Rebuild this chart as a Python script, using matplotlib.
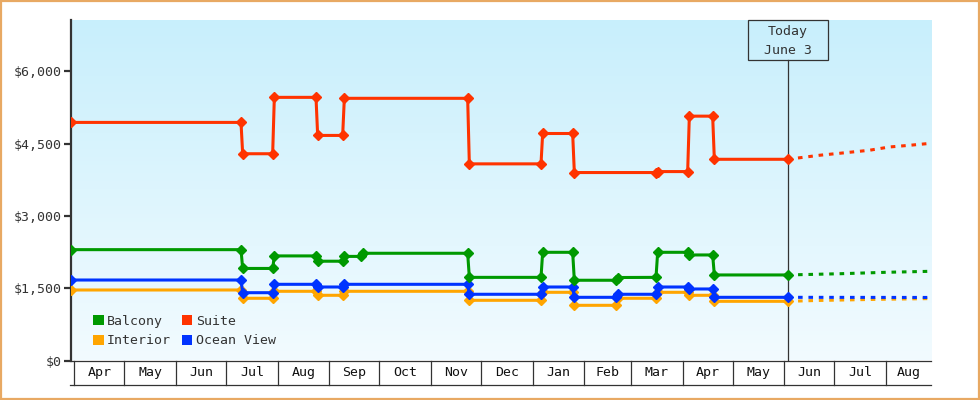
import matplotlib
matplotlib.use("Agg")
import matplotlib.pyplot as plt
import matplotlib.dates as mdates
import numpy as np
import pandas as pd
from matplotlib.patches import Rectangle, Patch
from matplotlib.ticker import FuncFormatter


# price history, one list of change points per cabin type
suite_dates = ["2024-03-30", "2024-07-10", "2024-07-11", "2024-07-29", "2024-07-30",
               "2024-08-24", "2024-08-25", "2024-09-09", "2024-09-10", "2024-11-23",
               "2024-11-24", "2025-01-06", "2025-01-07", "2025-01-25", "2025-01-26",
               "2025-03-16", "2025-03-17", "2025-04-04", "2025-04-05", "2025-04-19",
               "2025-04-20", "2025-06-03"]
suite_prices = [4940, 4940, 4290, 4290, 5460, 5460, 4670, 4670, 5440, 5440,
                4080, 4080, 4710, 4710, 3900, 3900, 3920, 3920, 5070, 5070,
                4175, 4175]

balcony_dates = ["2024-03-30", "2024-07-10", "2024-07-11", "2024-07-29", "2024-07-30",
                 "2024-08-24", "2024-08-25", "2024-09-09", "2024-09-10", "2024-09-20",
                 "2024-09-21", "2024-11-23", "2024-11-24", "2025-01-06", "2025-01-07",
                 "2025-01-25", "2025-01-26", "2025-02-20", "2025-02-21", "2025-03-16",
                 "2025-03-17", "2025-04-04", "2025-04-05", "2025-04-19", "2025-04-20",
                 "2025-06-03"]
balcony_prices = [2300, 2300, 1910, 1910, 2170, 2170, 2060, 2060, 2160, 2160,
                  2225, 2225, 1725, 1725, 2245, 2245, 1665, 1665, 1722, 1725,
                  2245, 2245, 2190, 2190, 1775, 1775]

common_dates = ["2024-03-30", "2024-07-10", "2024-07-11", "2024-07-29", "2024-07-30",
                "2024-08-24", "2024-08-25", "2024-09-09", "2024-09-10", "2024-11-23",
                "2024-11-24", "2025-01-06", "2025-01-07", "2025-01-25", "2025-01-26",
                "2025-02-20", "2025-02-21", "2025-03-16", "2025-03-17", "2025-04-04",
                "2025-04-05", "2025-04-19", "2025-04-20", "2025-06-03"]
ocean_prices = [1670, 1670, 1407, 1407, 1581, 1581, 1525, 1525, 1581, 1581,
                1374, 1374, 1525, 1525, 1311, 1311, 1374, 1374, 1525, 1525,
                1484, 1484, 1311, 1311]
interior_prices = [1463, 1463, 1291, 1291, 1436, 1436, 1353, 1353, 1436, 1436,
                   1249, 1249, 1415, 1415, 1145, 1145, 1291, 1291, 1415, 1415,
                   1353, 1353, 1228, 1228]

# forecast after today
suite_fc_dates = ["2025-06-03", "2025-06-22", "2025-07-04", "2025-07-22",
                  "2025-08-03", "2025-08-15", "2025-08-28"]
suite_fc = [4175, 4258, 4299, 4362, 4430, 4465, 4507]
balcony_fc_dates = ["2025-06-03", "2025-07-05", "2025-08-01", "2025-08-28"]
balcony_fc = [1775, 1801, 1830, 1851]
ocean_fc_dates = ["2025-06-03", "2025-08-28"]
ocean_fc = [1311, 1308]
interior_fc_dates = ["2025-06-03", "2025-06-20", "2025-07-25", "2025-08-28"]
interior_fc = [1228, 1245, 1268, 1285]

months = pd.date_range("2024-04-01", "2025-08-01", freq="MS")
month_labels = [m.strftime("%b") for m in months]
today = pd.Timestamp("2025-06-03")
x_start = pd.Timestamp("2024-03-30")
x_end = pd.Timestamp("2025-08-28")

COLORS = {
    "Balcony": "#009900",
    "Suite": "#ff3300",
    "Interior": "#ffa500",
    "Ocean View": "#0033ff",
}
FONT = "DejaVu Sans Mono"
TEXT = "#333333"

fig = plt.figure(figsize=(9.8, 4), dpi=100)
W, H = 980, 400
ax = fig.add_axes([71 / W, (H - 360.5) / H, 860 / W, 340.5 / H])

# gradient background
grad = np.linspace(0, 1, 256).reshape(-1, 1)
top = np.array([200, 239, 252]) / 255
bot = np.array([242, 251, 255]) / 255
img = top * (1 - grad[..., None]) + bot * grad[..., None]
img = img.reshape(256, 1, 3)
ax.imshow(img, extent=[0, 1, 0, 1], transform=ax.transAxes, aspect="auto", zorder=0)

ax.set_xlim(x_start, x_end)
ax.set_ylim(0, 7065)

series = [
    ("Interior", common_dates, interior_prices, interior_fc_dates, interior_fc),
    ("Ocean View", common_dates, ocean_prices, ocean_fc_dates, ocean_fc),
    ("Balcony", balcony_dates, balcony_prices, balcony_fc_dates, balcony_fc),
    ("Suite", suite_dates, suite_prices, suite_fc_dates, suite_fc),
]
for i, (name, d, v, fd, fv) in enumerate(series):
    c = COLORS[name]
    ax.plot(pd.to_datetime(fd), fv, color=c, lw=2.2, ls=(0, (1.5, 1.9)),
            solid_capstyle="butt", dash_capstyle="butt", zorder=3 + i)
    ax.plot(pd.to_datetime(d), v, color=c, lw=2.2, marker="D", ms=5,
            mec=c, mew=1.0, zorder=7 + i)

# today marker
box_h = (360.5 - 60.3) / 340.5
ax.plot([today, today], [0, box_h], transform=ax.get_xaxis_transform(),
        color=TEXT, lw=0.9, zorder=2)
half = pd.Timedelta(days=24.1)
ax.add_patch(Rectangle((mdates.date2num(today - half), box_h),
                       mdates.date2num(today + half) - mdates.date2num(today - half),
                       1 - box_h, transform=ax.get_xaxis_transform(),
                       fill=False, edgecolor=TEXT, lw=0.9, zorder=12, clip_on=False))
ax.text(today, (360.5 - 32) / 340.5, "Today", transform=ax.get_xaxis_transform(),
        ha="center", va="center", fontsize=9.5, family=FONT, color=TEXT, zorder=13)
ax.text(today, (360.5 - 50) / 340.5, "June 3", transform=ax.get_xaxis_transform(),
        ha="center", va="center", fontsize=9.5, family=FONT, color=TEXT, zorder=13)

# y axis
ax.set_yticks([0, 1500, 3000, 4500, 6000])
ax.yaxis.set_major_formatter(FuncFormatter(lambda v, p: f"${v:,.0f}"))
ax.tick_params(axis="y", length=5, width=1.6, color=TEXT, pad=2,
               labelsize=9.5, labelcolor=TEXT)
for lab in ax.get_yticklabels():
    lab.set_family(FONT)
ax.set_xticks([])
for s in ["top", "right"]:
    ax.spines[s].set_visible(False)
ax.spines["left"].set_linewidth(1.6)
ax.spines["left"].set_color(TEXT)
ax.spines["bottom"].set_linewidth(0.9)
ax.spines["bottom"].set_color(TEXT)

# month boxes below the axis
row_h = 24.5 / 340.5
xt = ax.get_xaxis_transform()
for m in months:
    ax.plot([m, m], [0, -row_h], transform=xt, color=TEXT, lw=0.9, clip_on=False)
ax.plot([x_start - pd.Timedelta(days=0.6), x_end], [-row_h, -row_h], transform=xt,
        color=TEXT, lw=0.9, clip_on=False)
edges = list(months) + [x_end]
for lab, a, b in zip(month_labels, edges[:-1], edges[1:]):
    mid = a + (b - a) / 2
    ax.text(mid, -row_h / 2, lab, transform=xt, ha="center", va="center",
            fontsize=9.5, family=FONT, color="#111111")

# legend
order = ["Balcony", "Interior", "Suite", "Ocean View"]
handles = [Patch(facecolor=COLORS[n], edgecolor="none", label=n) for n in order]
leg = ax.legend(handles=handles, ncol=2, loc="lower left",
                bbox_to_anchor=((93.3 - 71) / 860, (360.5 - 347.5) / 340.5),
                frameon=False, borderpad=0, borderaxespad=0,
                handlelength=0.78, handleheight=0.78, handletextpad=0.25,
                columnspacing=0.85, labelspacing=0.5,
                prop={"family": FONT, "size": 9.5})
for t in leg.get_texts():
    t.set_color(TEXT)

# outer border
fig.patches.append(Rectangle((0.001, 0.002), 0.998, 0.996, transform=fig.transFigure,
                             fill=False, edgecolor="#e8a963", lw=1.6))

fig.savefig("out.png", dpi=100)
